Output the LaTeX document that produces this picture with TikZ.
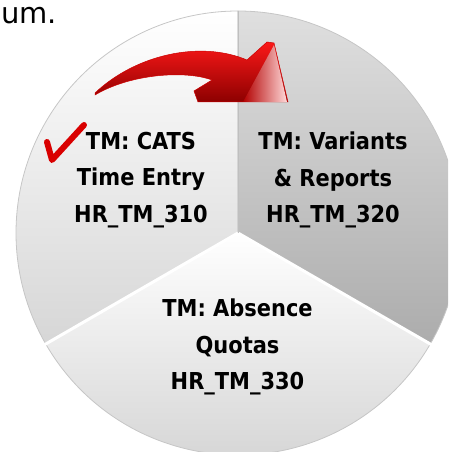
\documentclass[tikz,border=0pt]{standalone}
\usepackage{fontspec}
\newfontfamily\piefont{DejaVu Sans Condensed}
\newfontfamily\plainfont{DejaVu Sans}

\begin{document}
\begin{tikzpicture}[x=1pt,y=1pt,
  slice/.style={draw=gray!45,line width=0.8pt},
  slicetext/.style={font=\piefont\bfseries\fontsize{23.3}{36.7}\selectfont,align=center,inner sep=0pt}]
	\clip (0,0) rectangle (448,452);
	\coordinate (o) at (238,219);
	% the three slices
	\shade[slice,top color=white,bottom color=gray!32] (o) -- ++(90:222) arc[start angle=90,end angle=210,radius=222] -- cycle;
	\shade[slice,top color=gray!25,bottom color=gray!65] (o) -- ++(-30:222) arc[start angle=-30,end angle=90,radius=222] -- cycle;
	\shade[slice,top color=white,bottom color=gray!36] (o) -- ++(210:222) arc[start angle=210,end angle=330,radius=222] -- cycle;
	\draw[white,line width=3pt] (o) -- ++(210:224);
	\draw[white,line width=3pt] (o) -- ++(330:224);
	\draw[gray!50,line width=0.8pt] (o) -- ++(90:222);
	% texts
	\node[font=\plainfont\fontsize{29}{30}\selectfont,anchor=base west,inner sep=0pt] (frag) at (1,428) {um.};
	\node[slicetext] (cats) at (141,272) {TM: CATS\\Time Entry\\HR\_TM\_310};
	\node[slicetext] (variants) at (333,272) {TM: Variants\\\& Reports\\HR\_TM\_320};
	\node[slicetext] (absence) at (237.5,105) {TM: Absence\\Quotas\\HR\_TM\_330};
	% red arrow
	\shade[top color=red!90!white,bottom color=red!55!black,draw=red!80!black,line width=0.5pt]
	  (95,359) .. controls (135,397) and (200,412) .. (247,392) -- (267,410) -- (274,409) -- (288,350)
	  -- (198,350) -- (194,361) -- (212,372) .. controls (185,382) and (130,378) .. (95,357) -- cycle;
	\shade[left color=red!70!black,right color=red!15!white] (243,350) -- (274,407) -- (287,350) -- cycle;
	% check mark
	\draw[red!85!black,line width=6pt,line cap=round,line join=round] (47,310) -- (52,292) -- (84,327);
\end{tikzpicture}
\end{document}
